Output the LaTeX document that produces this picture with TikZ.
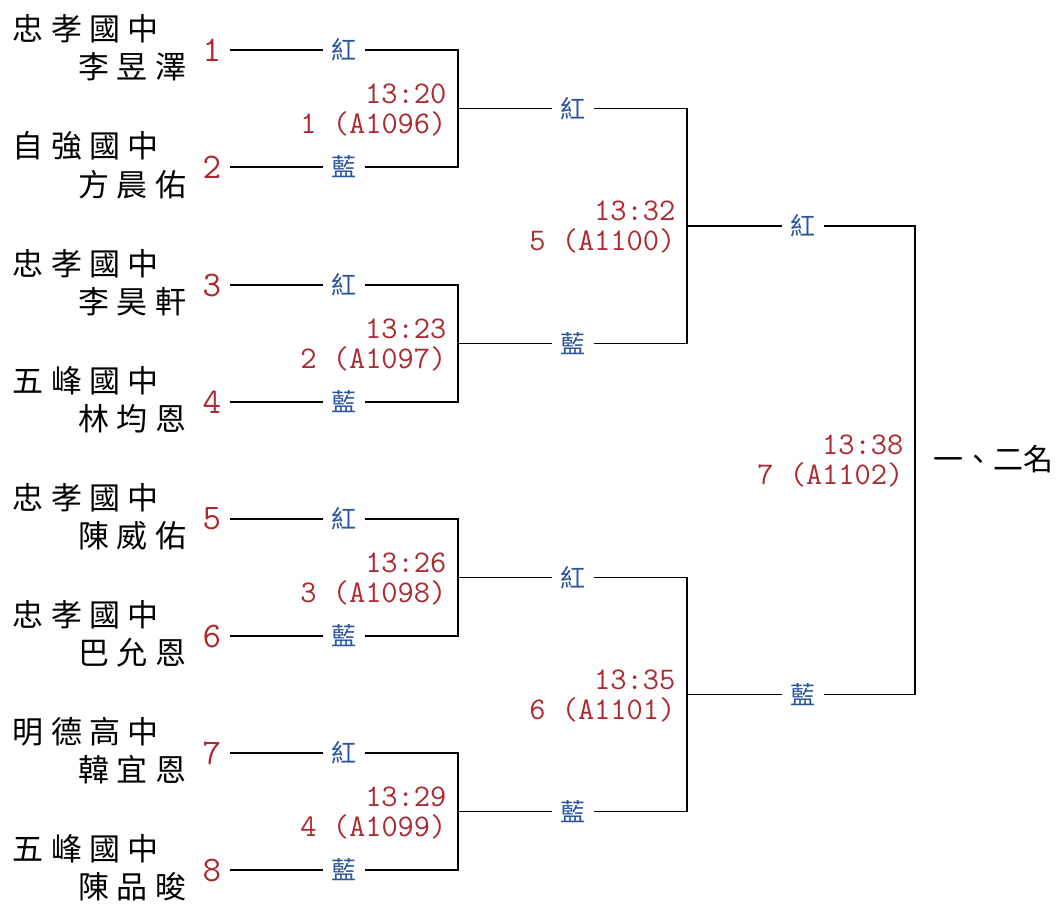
\documentclass[tikz,border=0pt]{standalone}
\usepackage{fontspec}
\newfontfamily\cjk[LetterSpace=24]{Noto Sans CJK TC}
\newfontfamily\cjkplain{Noto Sans CJK TC}
\definecolor{seedred}{RGB}{170,42,48}
\definecolor{tagblue}{RGB}{42,84,155}

\begin{document}
\begin{tikzpicture}[x=1pt,y=-1pt,line width=1.3pt,
		seed node/.style={text=seedred,font=\ttfamily\fontsize{36}{36}\selectfont,inner sep=0pt,outer sep=8.5pt},
		tag node/.style={text=tagblue,font=\cjkplain\fontsize{25}{25}\selectfont,inner sep=0pt,outer sep=8.5pt},
		time node/.style={text=seedred,font=\ttfamily\fontsize{31.5}{30}\selectfont,align=right,anchor=east,inner sep=0pt},
		school node/.style={font=\cjk\fontsize{31}{31}\selectfont,anchor=west,inner sep=0pt},
		player node/.style={font=\cjk\fontsize{31}{31}\selectfont,anchor=east,inner sep=0pt}]
		\useasboundingbox (0,0) rectangle (1061,906);
		% 選手
		\node[school node] (sc1) at (12,29) {忠孝國中};
		\node[player node] (pl1) at (187,67) {李昱澤};
		\node[school node] (sc2) at (12,146) {自強國中};
		\node[player node] (pl2) at (187,185) {方晨佑};
		\node[school node] (sc3) at (12,264) {忠孝國中};
		\node[player node] (pl3) at (187,302) {李昊軒};
		\node[school node] (sc4) at (12,381) {五峰國中};
		\node[player node] (pl4) at (187,419) {林均恩};
		\node[school node] (sc5) at (12,498) {忠孝國中};
		\node[player node] (pl5) at (187,536) {陳威佑};
		\node[school node] (sc6) at (12,615) {忠孝國中};
		\node[player node] (pl6) at (187,653) {巴允恩};
		\node[school node] (sc7) at (12,732) {明德高中};
		\node[player node] (pl7) at (187,770) {韓宜恩};
		\node[school node] (sc8) at (12,849) {五峰國中};
		\node[player node] (pl8) at (187,887) {陳品晙};
		% 籤號
		\node[seed node] (n1) at (212,50) {1};
		\node[seed node] (n2) at (212,167) {2};
		\node[seed node] (n3) at (212,285) {3};
		\node[seed node] (n4) at (212,402) {4};
		\node[seed node] (n5) at (212,519) {5};
		\node[seed node] (n6) at (212,636) {6};
		\node[seed node] (n7) at (212,753) {7};
		\node[seed node] (n8) at (212,870) {8};
		% 紅藍方
		\node[tag node] (t1) at (344,50) {紅};
		\node[tag node] (t2) at (344,167) {藍};
		\node[tag node] (t3) at (344,285) {紅};
		\node[tag node] (t4) at (344,402) {藍};
		\node[tag node] (t5) at (344,519) {紅};
		\node[tag node] (t6) at (344,636) {藍};
		\node[tag node] (t7) at (344,753) {紅};
		\node[tag node] (t8) at (344,870) {藍};
		\node[tag node] (t9) at (573,108.5) {紅};
		\node[tag node] (t10) at (573,343.5) {藍};
		\node[tag node] (t11) at (573,577.5) {紅};
		\node[tag node] (t12) at (573,811.5) {藍};
		\node[tag node] (t13) at (803,226) {紅};
		\node[tag node] (t14) at (803,694.5) {藍};
		% 交會點
		\coordinate (m1) at (458,108.5);
		\coordinate (m2) at (458,343.5);
		\coordinate (m3) at (458,577.5);
		\coordinate (m4) at (458,811.5);
		\coordinate (m5) at (687,226);
		\coordinate (m6) at (687,694.5);
		\coordinate (m7) at (915,460);
		% 場次
		\node[time node] (g1) at (447,110) {13:20\\1 (A1096)};
		\node[time node] (g2) at (447,345) {13:23\\2 (A1097)};
		\node[time node] (g3) at (447,579) {13:26\\3 (A1098)};
		\node[time node] (g4) at (447,813) {13:29\\4 (A1099)};
		\node[time node] (g5) at (676,227) {13:32\\5 (A1100)};
		\node[time node] (g6) at (676,696) {13:35\\6 (A1101)};
		\node[time node] (g7) at (904,461) {13:38\\7 (A1102)};
		\node[font=\cjkplain\fontsize{30}{30}\selectfont,anchor=west,inner sep=0pt] (fin) at (933,459) {一、二名};
		% 連線
		\draw (n1) -- (t1) -- (t1 -| m1) -- (t2 -| m1) -- (t2) -- (n2);
		\draw (n3) -- (t3) -- (t3 -| m2) -- (t4 -| m2) -- (t4) -- (n4);
		\draw (n5) -- (t5) -- (t5 -| m3) -- (t6 -| m3) -- (t6) -- (n6);
		\draw (n7) -- (t7) -- (t7 -| m4) -- (t8 -| m4) -- (t8) -- (n8);
		\draw (m1) -- (t9) -- (t9 -| m5) -- (t10 -| m5) -- (t10) -- (m2);
		\draw (m3) -- (t11) -- (t11 -| m6) -- (t12 -| m6) -- (t12) -- (m4);
		\draw (m5) -- (t13) -- (t13 -| m7) -- (t14 -| m7) -- (t14) -- (m6);
\end{tikzpicture}
\end{document}
